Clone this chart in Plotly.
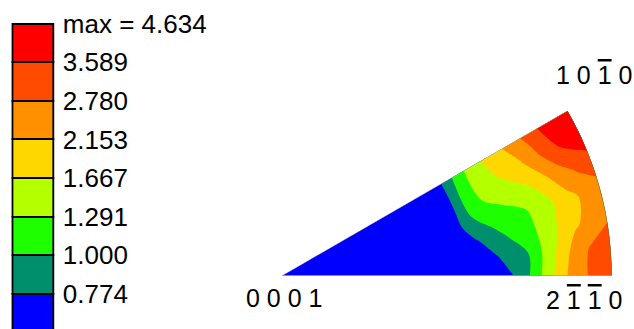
import numpy as np
import plotly.graph_objects as go

# Contour levels (multiples of random) and the maximum density
levels = [0.774, 1.000, 1.291, 1.667, 2.153, 2.780, 3.589]
max_density = 4.634
legend_labels = ["0.774", "1.000", "1.291", "1.667", "2.153", "2.780", "3.589",
                 "max = 4.634"]
band_colors = ["#0000FF", "#008F6C", "#1EFF00", "#B4FF00",
               "#FFD700", "#FF9100", "#FF4B00", "#FF0000"]

# Sampling grid of the inverse pole figure sector:
# radial position as a fraction of the 0001 -> 2-1-10 distance, and angle (deg)
radius_frac = [0.0, 0.3, 0.45, 0.5, 0.55, 0.6, 0.65, 0.7, 0.75, 0.8, 0.85, 0.9, 0.95, 1.0]
angle_deg = [0, 5, 10, 15, 20, 25, 30]

# Density along each radial line (one list per angle)
density_0deg = [0.42, 0.50, 0.58, 0.615, 0.639, 0.673, 0.717, 0.764, 0.989, 1.408, 1.973, 2.588, 2.948, 3.199]
density_5deg = [0.41, 0.49, 0.59, 0.631, 0.664, 0.699, 0.754, 0.860, 0.989, 1.359, 1.814, 2.490, 2.933, 3.241]
density_10deg = [0.40, 0.48, 0.60, 0.647, 0.690, 0.758, 0.882, 1.021, 1.166, 1.359, 1.680, 2.045, 2.373, 2.710]
density_15deg = [0.40, 0.48, 0.60, 0.656, 0.708, 0.942, 1.069, 1.148, 1.236, 1.383, 1.650, 1.993, 2.260, 2.446]
density_20deg = [0.41, 0.49, 0.61, 0.664, 0.717, 1.058, 1.281, 1.404, 1.532, 1.680, 2.045, 2.471, 2.881, 3.159]
density_25deg = [0.42, 0.50, 0.61, 0.664, 0.726, 1.082, 1.394, 1.600, 1.832, 2.093, 2.601, 3.341, 3.826, 4.184]
density_30deg = [0.43, 0.51, 0.62, 0.664, 0.735, 1.036, 1.394, 1.697, 2.004, 2.415, 2.979, 3.701, 4.141, 4.634]

density = np.array([density_0deg, density_5deg, density_10deg, density_15deg,
                    density_20deg, density_25deg, density_30deg])

# Map densities onto band index space (level k -> k) so the uneven,
# geometric level spacing becomes a uniform contour step.
log_lv = np.log(np.array(levels + [max_density]))
log_z = np.log(density)
band_idx = np.interp(log_z, log_lv, np.arange(1, len(log_lv) + 1))
below = log_z < log_lv[0]
band_idx[below] = 1 + (log_z[below] - log_lv[0]) / (log_lv[1] - log_lv[0])

n_bands = len(band_colors)
colorscale = [[k / (n_bands - 1), c] for k, c in enumerate(band_colors)]

# Carpet describing the 30 deg stereographic sector (polar geometry)
geo_a = np.linspace(0.0, 1.0, 11)
geo_b = np.linspace(0.0, 30.0, 31)
A, B = np.meshgrid(geo_a, geo_b)
X = A * np.cos(np.radians(B))
Y = A * np.sin(np.radians(B))

hidden_axis = dict(showgrid=False, showline=False, showticklabels="none",
                   startline=False, endline=False, minorgridcount=0,
                   gridcolor="rgba(0,0,0,0)", linecolor="rgba(0,0,0,0)",
                   smoothing=1)

font_family = "Liberation Sans, Arial, sans-serif"

fig = go.Figure()
fig.add_trace(go.Carpet(a=geo_a, b=geo_b, x=X, y=Y, carpet="ipf",
                        aaxis=hidden_axis, baxis=hidden_axis))
fig.add_trace(go.Contourcarpet(
    a=radius_frac, b=angle_deg, z=band_idx, carpet="ipf",
    autocontour=False,
    contours=dict(start=1, end=len(levels), size=1, coloring="fill", showlines=False),
    line=dict(width=0),
    colorscale=colorscale, showscale=False))

# Sector outline
arc_b = np.linspace(0.0, 30.0, 91)
fig.add_trace(go.Scattercarpet(a=[1, 0, 1], b=[0, 0, 30], carpet="ipf",
                               mode="lines", line=dict(color="#A0A0A0", width=1),
                               hoverinfo="skip", showlegend=False))
fig.add_trace(go.Scattercarpet(a=np.ones_like(arc_b), b=arc_b, carpet="ipf",
                               mode="lines", line=dict(color="#6A5A50", width=1),
                               hoverinfo="skip", showlegend=False))

# Level legend drawn as stacked boxes
fig.add_trace(go.Bar(x=[0] * n_bands, y=[1] * n_bands, base=list(range(n_bands)),
                     width=1, marker=dict(color=band_colors,
                                          line=dict(color="black", width=2)),
                     xaxis="x2", yaxis="y2", hoverinfo="skip", showlegend=False))

def ob(d):
    return '<span style="text-decoration:overline">' + d + "</span>"

ann_font = dict(family=font_family, size=25, color="#000000")
cos30, sin30 = np.cos(np.radians(30)), np.sin(np.radians(30))
annotations = [
    dict(x=0, y=0, text="0 0 0 1", xshift=2, yshift=-22),
    dict(x=1, y=0, text="2 " + ob("1") + " " + ob("1") + " 0", xshift=-28, yshift=-24),
    dict(x=cos30, y=sin30, text="1 0 " + ob("1") + " 0", xshift=27, yshift=36),
]
for a in annotations:
    a.update(xref="x", yref="y", showarrow=False, font=ann_font,
             xanchor="center", yanchor="middle")

W, H = 634, 329
apex_px, apex_py, R_px = 281.7, 275.7, 330.0

fig.update_layout(
    width=W, height=H,
    margin=dict(l=0, r=0, t=0, b=0, pad=0),
    paper_bgcolor="white", plot_bgcolor="white",
    showlegend=False,
    font=dict(family=font_family, size=25, color="#000000"),
    xaxis=dict(domain=[0, 1], range=[-apex_px / R_px, (W - apex_px) / R_px],
               visible=False, fixedrange=True),
    yaxis=dict(domain=[0, 1], range=[-(H - apex_py) / R_px, apex_py / R_px],
               visible=False, fixedrange=True),
    xaxis2=dict(domain=[0.01793, 0.08617], range=[-0.52, 0.52], anchor="y2",
                visible=False, fixedrange=True),
    yaxis2=dict(domain=[0, 1], range=[0.0845, 8.617], anchor="x2", side="right",
                tickmode="array", tickvals=list(range(1, n_bands + 1)),
                ticktext=legend_labels, ticks="outside", ticklen=2,
                tickcolor="rgba(0,0,0,0)", showgrid=False, zeroline=False,
                showline=False, tickfont=dict(family=font_family, size=26,
                                              color="#000000"),
                fixedrange=True),
    bargap=0,
    annotations=annotations,
)

fig.write_html("out.html")
